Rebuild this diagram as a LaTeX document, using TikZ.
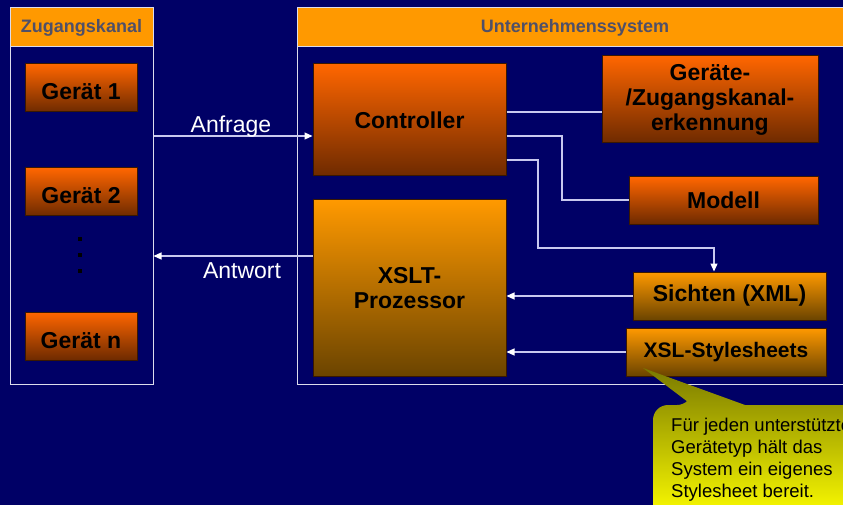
\documentclass[tikz,border=0pt]{standalone}
\usepackage{fontspec}
\setmainfont{Liberation Sans}
\usetikzlibrary{arrows.meta,calc}
\definecolor{bg}{HTML}{000066}
\definecolor{hdr}{HTML}{FF9900}
\definecolor{hdrtext}{HTML}{505068}
\definecolor{frame}{HTML}{DCDCEC}
\definecolor{linec}{HTML}{C8C8EE}
\definecolor{boxline}{HTML}{3A1800}
\definecolor{otop}{HTML}{FF6600}
\definecolor{obot}{HTML}{6E2A00}
\definecolor{atop}{HTML}{FF9900}
\definecolor{abot}{HTML}{6B4400}
\definecolor{olive}{HTML}{7A7A00}
\definecolor{yel}{HTML}{FFFF00}
\pgfdeclareverticalshading{oshade}{100bp}{color(0bp)=(obot); color(25bp)=(obot); color(75bp)=(otop); color(100bp)=(otop)}
\pgfdeclareverticalshading{ashade}{100bp}{color(0bp)=(abot); color(25bp)=(abot); color(75bp)=(atop); color(100bp)=(atop)}
\pgfdeclareverticalshading{yshade}{100bp}{color(0bp)=(yel); color(25bp)=(yel); color(75bp)=(olive); color(100bp)=(olive)}
\begin{document}
\begin{tikzpicture}[x=1pt,y=1pt,
  container/.style={draw=frame,line width=1pt,inner sep=0pt},
  header/.style={draw=frame,line width=1pt,fill=hdr,inner sep=0pt,text=hdrtext,
    font=\bfseries\fontsize{18}{20}\selectfont},
  boxbase/.style={draw=boxline,line width=1pt,inner sep=0pt,align=center,
    font=\bfseries\fontsize{23}{25}\selectfont,text=black},
  obox/.style={boxbase,shade,shading=oshade},
  abox/.style={boxbase,shade,shading=ashade},
  geraet/.style={obox,minimum width=112pt,minimum height=48pt,text height=24pt,text depth=0pt},
  conn/.style={draw=linec,line width=1.2pt},
  arr/.style={conn,-{Triangle[width=7pt,length=8pt,color=white]}},
  lbl/.style={text=white,font=\fontsize{23}{25}\selectfont,inner sep=0pt,anchor=base}
]
\useasboundingbox (0,0) rectangle (843,-505);
\fill[bg] (0,0) rectangle (843,-505);
\clip (0,0) rectangle (843,-505);

% containers
\node[container,minimum width=143pt,minimum height=376pt] (zk) at (81.5,-196) {};
\node[header,minimum width=143pt,minimum height=39pt] (zkh) at (81.5,-27.5) {Zugangskanal};
\node[container,minimum width=556pt,minimum height=376pt] (us) at (575,-196) {};
\node[header,minimum width=556pt,minimum height=39pt] (ush) at (575,-27.5) {Unternehmenssystem};

% devices
\node[geraet] (g1) at (81,-88) {Gerät 1};
\node[geraet] (g2) at (81,-192) {Gerät 2};
\node[geraet] (gn) at (81,-336) {Gerät n};
\fill[black] (78,-237) rectangle (82,-241);
\fill[black] (78,-253) rectangle (82,-257);
\fill[black] (78,-269) rectangle (82,-273);

% system boxes
\node[obox,minimum width=193pt,minimum height=112pt] (ctrl) at (409.5,-120) {Controller};
\node[obox,minimum width=216pt,minimum height=87pt] (erk) at (710,-99.5) {Geräte-\\/Zugangskanal-\\erkennung};
\node[obox,minimum width=189pt,minimum height=47pt] (mod) at (723.5,-200.5) {Modell};
\node[abox,minimum width=193pt,minimum height=176pt] (xslt) at (409.5,-288) {XSLT-\\Prozessor};
\node[abox,minimum width=193pt,minimum height=48pt] (sicht) at (729.5,-296) {Sichten (XML)};
\node[abox,minimum width=200pt,minimum height=48pt,font=\bfseries\fontsize{21}{23}\selectfont] (xsl) at (726,-352) {XSL-Stylesheets};

% connectors
\draw[arr] (zk.east |- 0,-136) -- (ctrl.west |- 0,-136);
\node[lbl] (anf) at (231,-133) {Anfrage};
\draw[arr] (xslt.west |- 0,-256) -- (zk.east |- 0,-256);
\node[lbl] (antw) at (242,-278) {Antwort};
\draw[conn] (ctrl.east |- 0,-112) -- (erk.west |- 0,-112);
\draw[conn] (ctrl.east |- 0,-136) -- (562,-136) -- (562,-200) -- (mod.west |- 0,-200);
\draw[arr] (ctrl.east |- 0,-160) -- (538,-160) -- (538,-248) -- (714,-248) -- (sicht.north -| 714,0);
\draw[arr] (sicht.west) -- (xslt.east |- sicht.west);
\draw[arr] (xsl.west) -- (xslt.east |- xsl.west);

% callout
\shade[shading=yshade]
  (692,-405) -- (643,-368) -- (745,-405) -- (900,-405) -- (900,-520) -- (653,-520)
  [rounded corners=15pt] -- (653,-405) -- (692,-405) [sharp corners] -- cycle;
\node[anchor=north west,inner sep=0pt,align=left,text=black,
  font=\fontsize{18.5}{22}\selectfont] (note) at (671,-418)
  {Für jeden unterstützten\\Gerätetyp hält das\\System ein eigenes\\Stylesheet bereit.};
\end{tikzpicture}
\end{document}
